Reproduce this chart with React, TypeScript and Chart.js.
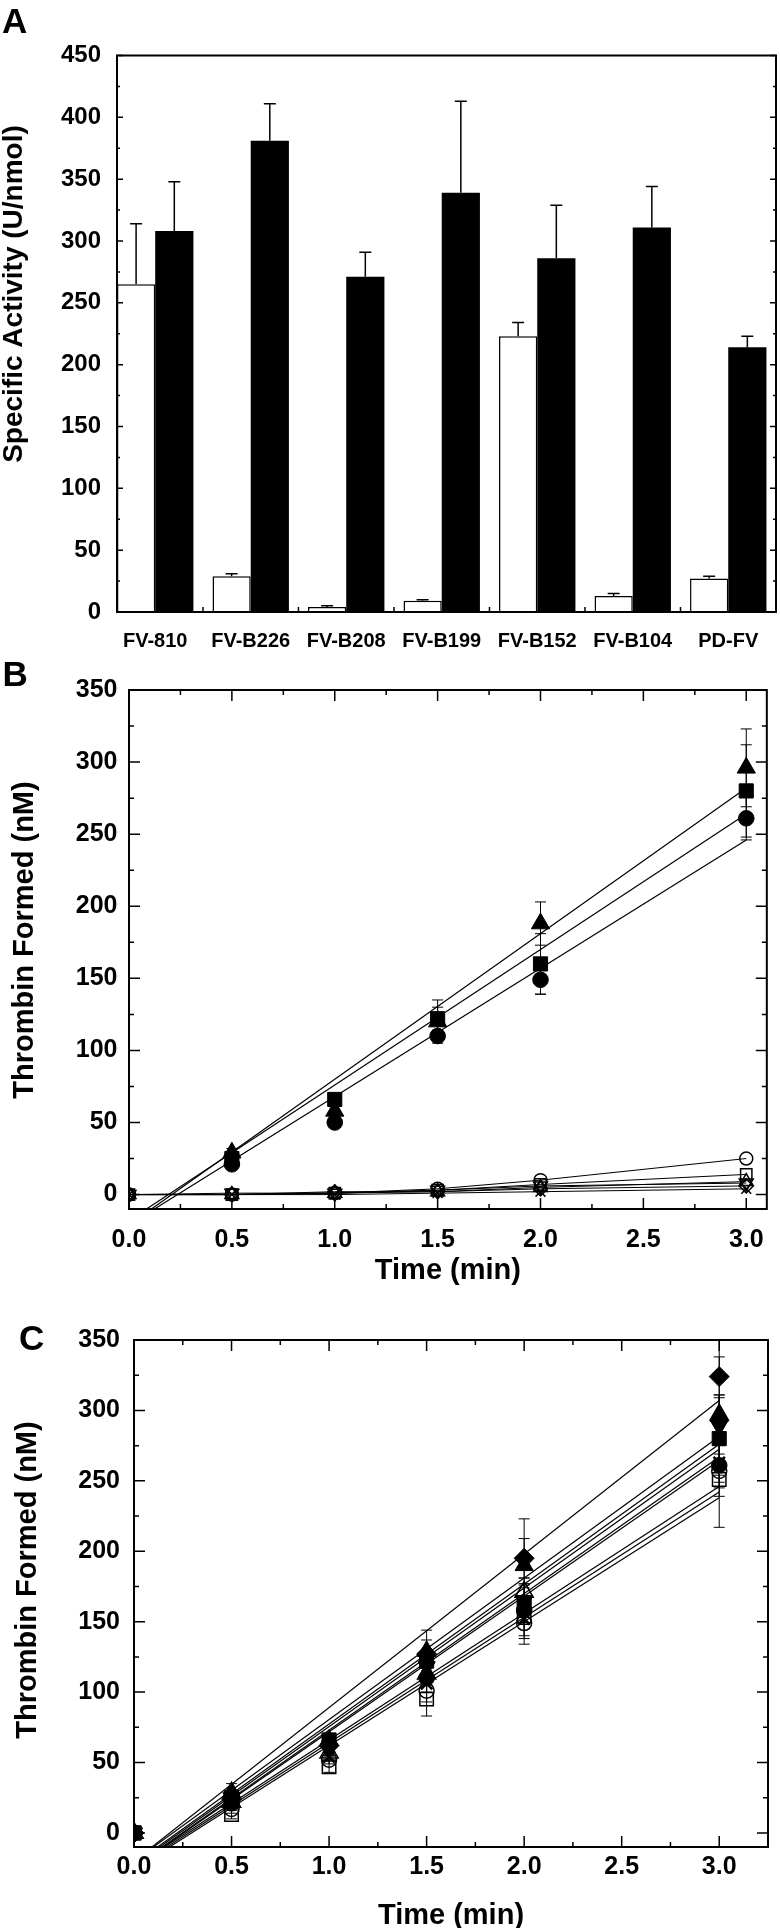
import React, { useEffect, useRef } from 'react';
import { Chart, registerables } from 'chart.js';

Chart.register(...registerables);

const FONT = "'Liberation Sans', Arial, Helvetica, sans-serif";
Chart.defaults.font.family = FONT;
Chart.defaults.color = '#000';

// ---------------- Panel A data ----------------
const A_CATEGORIES = ['FV-810', 'FV-B226', 'FV-B208', 'FV-B199', 'FV-B152', 'FV-B104', 'PD-FV'];
const A_OPEN_VALUES = [265, 29, 4, 9, 223, 13, 27];
const A_OPEN_ERRORS = [49, 2, 1, 1, 11, 2, 2];
const A_FILLED_VALUES = [308, 381, 271, 339, 286, 311, 214];
const A_FILLED_ERRORS = [40, 30, 20, 74, 43, 33, 9];
const A_Y_TICKS = [0, 50, 100, 150, 200, 250, 300, 350, 400, 450];
const A_Y_MINOR = [25, 75, 125, 175, 225, 275, 325, 375, 425];
const A_X_BOUNDARIES = [1.5, 2.5, 3.5, 4.5, 5.5, 6.5];
const A_Y_TITLE = 'Specific Activity (U/nmol)';

// ---------------- Panel B data ----------------
const B_TIMES = [0.5, 1, 1.5, 2, 3];
const B_TIMES_ZERO = [0, 0.5, 1, 1.5, 2, 3];
const B_TRIANGLE = [29, 58, 120, 188, 296];
const B_TRIANGLE_ERR = [3, 3, 15, 15, 27];
const B_SQUARE = [25, 66, 122, 160, 280];
const B_SQUARE_ERR = [2, 3, 8, 21, 32];
const B_CIRCLE = [21, 50, 110, 149, 261];
const B_CIRCLE_ERR = [2, 2, 3, 10, 15];
const B_FIT_SLOPES = [101, 94, 89];
const B_FIT_INTERCEPTS = [-21, -18, -21];
const B_OPEN_CIRCLE = [0, 0, 1, 4, 10, 25];
const B_OPEN_SQUARE = [0, 0, 1, 3, 7, 14];
const B_OPEN_TRIANGLE = [0, 0, 1, 2, 5, 9];
const B_OPEN_INV_TRIANGLE = [0, 1, 1, 3, 6, 8];
const B_OPEN_DIAMOND = [0, 0, 2, 2, 4, 6];
const B_CROSS = [0, 0, 0, 1, 2, 4];
const B_X_TICKS = [0, 0.5, 1, 1.5, 2, 2.5, 3];
const B_X_MINOR = [0.25, 0.75, 1.25, 1.75, 2.25, 2.75];

// ---------------- Panel C data ----------------
const C_TIMES = [0, 0.5, 1, 1.5, 2, 3];
const C_DIAMOND = [0, 24, 62, 127, 195, 324];
const C_DIAMOND_ERR = [0, 3, 4, 10, 14, 26];
const C_TRIANGLE = [0, 29, 66, 129, 190, 296];
const C_TRIANGLE_ERR = [0, 6, 4, 15, 33, 42];
const C_OPEN_TRIANGLE = [0, 22, 57, 113, 171, 297];
const C_OPEN_TRIANGLE_ERR = [0, 3, 3, 6, 10, 14];
const C_INV_TRIANGLE = [0, 25, 60, 118, 165, 289];
const C_INV_TRIANGLE_ERR = [0, 3, 3, 8, 12, 20];
const C_SQUARE = [0, 25, 66, 122, 162, 280];
const C_SQUARE_ERR = [0, 2, 3, 8, 14, 31];
const C_CIRCLE = [0, 21, 63, 110, 158, 261];
const C_CIRCLE_ERR = [0, 2, 3, 5, 10, 15];
const C_CROSS = [0, 24, 54, 106, 152, 263];
const C_CROSS_ERR = [0, 2, 3, 6, 12, 18];
const C_OPEN_SQUARE = [0, 13, 47, 95, 154, 251];
const C_OPEN_SQUARE_ERR = [0, 3, 4, 12, 20, 34];
const C_OPEN_CIRCLE = [0, 17, 52, 101, 149, 257];
const C_OPEN_CIRCLE_ERR = [0, 3, 3, 8, 11, 18];
const C_FIT_SLOPES = [109, 100.5, 99.3, 98.5, 97, 96.3, 90, 88, 89];
const C_FIT_INTERCEPTS = [-20, -20, -22, -23, -24, -24.5, -24, -26, -25];
const C_X_TICKS = [0, 0.5, 1, 1.5, 2, 2.5, 3];
const C_X_MINOR = [0.25, 0.75, 1.25, 1.75, 2.25, 2.75];

const THROMBIN_Y_TICKS = [0, 50, 100, 150, 200, 250, 300, 350];
const THROMBIN_Y_MINOR = [25, 75, 125, 175, 225, 275, 325];
const THROMBIN_Y_TITLE = 'Thrombin Formed (nM)';
const TIME_X_TITLE = 'Time (min)';

// ---------------- helpers ----------------
const pts = (xs: number[], ys: number[]) => ys.map((y, i) => ({ x: xs[i], y }));
const fitLine = (m: number, b: number, x0: number, x1: number) => [
  { x: x0, y: m * x0 + b },
  { x: x1, y: m * x1 + b },
];

type MarkStyle = { shape: string; r: number; filled: boolean; rot?: number };

function markerSet(data: any[], st: MarkStyle, errs?: number[], line = false) {
  return {
    data,
    errorBars: errs,
    showLine: line,
    order: 1,
    tension: 0,
    pointStyle: st.shape,
    pointRadius: st.r,
    pointRotation: st.rot || 0,
    pointBackgroundColor: st.filled ? '#000' : 'rgba(0,0,0,0)',
    pointBorderColor: '#000',
    pointBorderWidth: st.filled ? 1 : 1.5,
    borderColor: '#000',
    backgroundColor: '#000',
    borderWidth: 1,
  };
}

function fitSet(m: number, b: number) {
  return {
    data: fitLine(m, b, 0, 3),
    showLine: true,
    pointRadius: 0,
    borderColor: '#000',
    borderWidth: 1.2,
    order: 2,
    tension: 0,
    fill: false,
  };
}

const errorBarPlugin = (cap: number, width: number, upOnly: boolean) => ({
  id: 'errorBars',
  beforeDatasetsDraw(chart: any) {
    const { ctx, chartArea } = chart;
    const ys = chart.scales.y;
    ctx.save();
    ctx.beginPath();
    ctx.rect(chartArea.left, chartArea.top - 1, chartArea.right - chartArea.left, chartArea.bottom - chartArea.top + 1);
    ctx.clip();
    ctx.strokeStyle = '#000';
    ctx.lineWidth = width;
    chart.data.datasets.forEach((ds: any, i: number) => {
      const errs = ds.errorBars;
      if (!errs) return;
      const meta = chart.getDatasetMeta(i);
      meta.data.forEach((el: any, j: number) => {
        const e = errs[j];
        if (!e) return;
        const v = ds.data[j].y;
        const x = el.x;
        const yTop = ys.getPixelForValue(v + e);
        const yBot = ys.getPixelForValue(upOnly ? v : v - e);
        ctx.beginPath();
        ctx.moveTo(x, yBot);
        ctx.lineTo(x, yTop);
        ctx.moveTo(x - cap, yTop);
        ctx.lineTo(x + cap, yTop);
        if (!upOnly) {
          ctx.moveTo(x - cap, yBot);
          ctx.lineTo(x + cap, yBot);
        }
        ctx.stroke();
      });
    });
    ctx.restore();
  },
});

type Marks = { values: number[]; len: number; a: boolean; b: boolean };

const frameTicksPlugin = (xMarks: Marks[], yMarks: Marks[], frameWidth: number, tickWidth: number) => ({
  id: 'frameTicks',
  afterDatasetsDraw(chart: any) {
    const { ctx } = chart;
    const { left, right, top, bottom } = chart.chartArea;
    const xs = chart.scales.x;
    const ys = chart.scales.y;
    ctx.save();
    ctx.strokeStyle = '#000';
    ctx.lineWidth = tickWidth;
    ctx.beginPath();
    xMarks.forEach((m) => {
      m.values.forEach((v) => {
        const px = xs.getPixelForValue(v);
        if (m.a) {
          ctx.moveTo(px, bottom);
          ctx.lineTo(px, bottom - m.len);
        }
        if (m.b) {
          ctx.moveTo(px, top);
          ctx.lineTo(px, top + m.len);
        }
      });
    });
    yMarks.forEach((m) => {
      m.values.forEach((v) => {
        const py = ys.getPixelForValue(v);
        if (m.a) {
          ctx.moveTo(left, py);
          ctx.lineTo(left + m.len, py);
        }
        if (m.b) {
          ctx.moveTo(right, py);
          ctx.lineTo(right - m.len, py);
        }
      });
    });
    ctx.stroke();
    ctx.lineWidth = frameWidth;
    ctx.strokeRect(left, top, right - left, bottom - top);
    ctx.restore();
  },
});

// axis titles drawn as canvas text at given positions (x === null -> centre of plot)
type TitleSpec = { text: string; x: number | null; y: number; rot: boolean; size: number };
const titlesPlugin = (specs: TitleSpec[]) => ({
  id: 'axisTitles',
  afterDraw(chart: any) {
    const { ctx, chartArea } = chart;
    ctx.save();
    ctx.fillStyle = '#000';
    ctx.textAlign = 'center';
    ctx.textBaseline = 'middle';
    specs.forEach((s) => {
      const x = s.x === null ? (chartArea.left + chartArea.right) / 2 : s.x;
      ctx.save();
      ctx.translate(x, s.y);
      if (s.rot) ctx.rotate(-Math.PI / 2);
      ctx.font = `bold ${s.size}px ${FONT}`;
      ctx.fillText(s.text, 0, 0);
      ctx.restore();
    });
    ctx.restore();
  },
});

// ---------------- configs ----------------
const A_H = 650;
const B_TOP = 650;
const B_H = 652;
const C_TOP = B_TOP + B_H;
const C_H = 1928 - C_TOP;

function configA(): any {
  const chartTop = 55.5;
  const chartBottom = 612;
  return {
    type: 'bar',
    data: {
      datasets: [
        {
          data: pts(A_CATEGORIES.map((_, i) => i + 1), A_OPEN_VALUES),
          errorBars: A_OPEN_ERRORS,
          backgroundColor: '#fff',
          borderColor: '#000',
          borderWidth: 1.5,
          categoryPercentage: 0.8,
          barPercentage: 1.0,
        },
        {
          data: pts(A_CATEGORIES.map((_, i) => i + 1), A_FILLED_VALUES),
          errorBars: A_FILLED_ERRORS,
          backgroundColor: '#000',
          borderColor: '#000',
          borderWidth: 0,
          categoryPercentage: 0.8,
          barPercentage: 1.0,
        },
      ],
    },
    options: {
      animation: false,
      responsive: false,
      events: [],
      layout: { padding: { left: 0, top: chartTop, right: 4, bottom: 0 } },
      plugins: { legend: { display: false }, tooltip: { enabled: false } },
      scales: {
        x: {
          type: 'linear',
          offset: false,
          min: 0.6,
          max: 7.5,
          afterBuildTicks: (s: any) => {
            s.ticks = A_CATEGORIES.map((_, i) => ({ value: i + 1 }));
          },
          afterFit: (s: any) => {
            s.height = A_H - chartBottom;
          },
          ticks: {
            autoSkip: false,
            maxRotation: 0,
            padding: 17,
            color: '#000',
            font: { family: FONT, size: 20, weight: 'bold' },
            callback: (v: any) => A_CATEGORIES[Math.round(Number(v)) - 1] ?? '',
          },
          grid: { display: false, drawTicks: false },
          border: { display: false },
        },
        y: {
          min: 0,
          max: 450,
          afterBuildTicks: (s: any) => {
            s.ticks = A_Y_TICKS.map((v) => ({ value: v }));
          },
          afterFit: (s: any) => {
            s.width = 117;
          },
          ticks: {
            padding: 16,
            color: '#000',
            font: { family: FONT, size: 24, weight: 'bold' },
          },
          grid: { display: false, drawTicks: false },
          border: { display: false },
        },
      },
    },
    plugins: [
      errorBarPlugin(6, 1.5, true),
      frameTicksPlugin(
        [{ values: A_X_BOUNDARIES, len: 5, a: true, b: false }],
        [
          { values: A_Y_TICKS, len: 6, a: true, b: true },
          { values: A_Y_MINOR, len: 3, a: true, b: true },
        ],
        2,
        1.5
      ),
      titlesPlugin([{ text: A_Y_TITLE, x: 14.5, y: 294, rot: true, size: 28 }]),
    ],
  };
}

function thrombinConfig(datasets: any[], o: any): any {
  return {
    type: 'scatter',
    data: { datasets },
    options: {
      animation: false,
      responsive: false,
      events: [],
      layout: { padding: { left: 0, top: o.padTop, right: o.padRight, bottom: 0 } },
      plugins: { legend: { display: false }, tooltip: { enabled: false } },
      scales: {
        x: {
          type: 'linear',
          min: 0,
          max: o.xMax,
          afterBuildTicks: (s: any) => {
            s.ticks = o.xTicks.map((v: number) => ({ value: v }));
          },
          afterFit: (s: any) => {
            s.height = o.xAxisHeight;
          },
          ticks: {
            autoSkip: false,
            maxRotation: 0,
            padding: o.xTickPad,
            color: '#000',
            font: { family: FONT, size: 25, weight: 'bold' },
            callback: (v: any) => Number(v).toFixed(1),
          },
          grid: { display: false, drawTicks: false },
          border: { display: false },
        },
        y: {
          type: 'linear',
          min: -10,
          max: 350,
          afterBuildTicks: (s: any) => {
            s.ticks = THROMBIN_Y_TICKS.map((v) => ({ value: v }));
          },
          afterFit: (s: any) => {
            s.width = o.yAxisWidth;
          },
          ticks: {
            padding: o.yTickPad,
            color: '#000',
            font: { family: FONT, size: 25, weight: 'bold' },
          },
          grid: { display: false, drawTicks: false },
          border: { display: false },
        },
      },
    },
    plugins: [
      errorBarPlugin(5.5, 1, false),
      frameTicksPlugin(
        [
          { values: o.xTicks, len: 11, a: true, b: true },
          { values: o.xMinor, len: 5, a: true, b: true },
        ],
        [
          { values: THROMBIN_Y_TICKS, len: 11, a: true, b: true },
          { values: THROMBIN_Y_MINOR, len: 5, a: true, b: true },
        ],
        2,
        1.5
      ),
      titlesPlugin([
        { text: THROMBIN_Y_TITLE, x: o.yTitleX, y: o.yTitleY, rot: true, size: 29 },
        { text: TIME_X_TITLE, x: null, y: o.xTitleY, rot: false, size: 29 },
      ]),
    ],
  };
}

const TRI: MarkStyle = { shape: 'triangle', r: 10.5, filled: true };
const SQ: MarkStyle = { shape: 'rect', r: 10, filled: true };
const CIR: MarkStyle = { shape: 'circle', r: 7.8, filled: true };
const DIA: MarkStyle = { shape: 'rectRot', r: 10, filled: true };
const INV: MarkStyle = { shape: 'triangle', r: 10, filled: true, rot: 180 };
const XMARK: MarkStyle = { shape: 'crossRot', r: 8, filled: false };
const O_TRI: MarkStyle = { shape: 'triangle', r: 10.5, filled: false };
const O_SQ: MarkStyle = { shape: 'rect', r: 9.5, filled: false };
const O_CIR: MarkStyle = { shape: 'circle', r: 7.5, filled: false };
const SO_CIR: MarkStyle = { shape: 'circle', r: 6.5, filled: false };
const SO_SQ: MarkStyle = { shape: 'rect', r: 8, filled: false };
const SO_TRI: MarkStyle = { shape: 'triangle', r: 8, filled: false };
const SO_INV: MarkStyle = { shape: 'triangle', r: 8, filled: false, rot: 180 };
const SO_DIA: MarkStyle = { shape: 'rectRot', r: 7, filled: false };
const SO_X: MarkStyle = { shape: 'crossRot', r: 7, filled: false };

function configB(): any {
  const datasets = [
    markerSet(pts(B_TIMES, B_TRIANGLE), TRI, B_TRIANGLE_ERR),
    markerSet(pts(B_TIMES, B_SQUARE), SQ, B_SQUARE_ERR),
    markerSet(pts(B_TIMES, B_CIRCLE), CIR, B_CIRCLE_ERR),
    markerSet(pts(B_TIMES_ZERO, B_OPEN_CIRCLE), SO_CIR, undefined, true),
    markerSet(pts(B_TIMES_ZERO, B_OPEN_SQUARE), SO_SQ, undefined, true),
    markerSet(pts(B_TIMES_ZERO, B_OPEN_TRIANGLE), SO_TRI, undefined, true),
    markerSet(pts(B_TIMES_ZERO, B_OPEN_INV_TRIANGLE), SO_INV, undefined, true),
    markerSet(pts(B_TIMES_ZERO, B_OPEN_DIAMOND), SO_DIA, undefined, true),
    markerSet(pts(B_TIMES_ZERO, B_CROSS), SO_X, undefined, true),
    ...B_FIT_SLOPES.map((m, i) => fitSet(m, B_FIT_INTERCEPTS[i])),
  ];
  const chartTop = 690 - B_TOP;
  const chartBottom = 1209 - B_TOP;
  return thrombinConfig(datasets, {
    padTop: chartTop,
    padRight: 5,
    xMax: 3.1,
    xTicks: B_X_TICKS,
    xMinor: B_X_MINOR,
    xAxisHeight: B_H - chartBottom,
    xTickPad: 16,
    yAxisWidth: 129,
    yTickPad: 11.5,
    yTitleX: 24.5,
    yTitleY: 940 - B_TOP,
    xTitleY: 1271 - B_TOP,
  });
}

function configC(): any {
  const series: [number[], MarkStyle, number[]][] = [
    [C_DIAMOND, DIA, C_DIAMOND_ERR],
    [C_TRIANGLE, TRI, C_TRIANGLE_ERR],
    [C_OPEN_TRIANGLE, O_TRI, C_OPEN_TRIANGLE_ERR],
    [C_INV_TRIANGLE, INV, C_INV_TRIANGLE_ERR],
    [C_SQUARE, SQ, C_SQUARE_ERR],
    [C_CIRCLE, CIR, C_CIRCLE_ERR],
    [C_CROSS, XMARK, C_CROSS_ERR],
    [C_OPEN_SQUARE, O_SQ, C_OPEN_SQUARE_ERR],
    [C_OPEN_CIRCLE, O_CIR, C_OPEN_CIRCLE_ERR],
  ];
  const datasets = [
    ...series.map(([ys, st, errs]) => {
      const d: any = markerSet(pts(C_TIMES, ys), st, errs);
      if (st.shape === 'crossRot') d.pointBorderWidth = 2.5;
      return d;
    }),
    ...C_FIT_SLOPES.map((m, i) => fitSet(m, C_FIT_INTERCEPTS[i])),
  ];
  const chartTop = 1340 - C_TOP;
  const chartBottom = 1847 - C_TOP;
  return thrombinConfig(datasets, {
    padTop: chartTop,
    padRight: 1.5,
    xMax: 3.25,
    xTicks: C_X_TICKS,
    xMinor: C_X_MINOR,
    xAxisHeight: C_H - chartBottom,
    xTickPad: 5,
    yAxisWidth: 134,
    yTickPad: 14,
    yTitleX: 27.5,
    yTitleY: 1580 - C_TOP,
    xTitleY: 1916 - C_TOP,
  });
}

const letterStyle = (left: number, top: number): React.CSSProperties => ({
  position: 'absolute',
  left,
  top,
  margin: 0,
  fontFamily: FONT,
  fontWeight: 'bold',
  fontSize: 35,
  lineHeight: '35px',
  color: '#000',
});

export default function App() {
  const refA = useRef<HTMLCanvasElement>(null);
  const refB = useRef<HTMLCanvasElement>(null);
  const refC = useRef<HTMLCanvasElement>(null);

  useEffect(() => {
    const charts: Chart[] = [];
    if (refA.current) charts.push(new Chart(refA.current, configA()));
    if (refB.current) charts.push(new Chart(refB.current, configB()));
    if (refC.current) charts.push(new Chart(refC.current, configC()));
    return () => charts.forEach((c) => c.destroy());
  }, []);

  const canvasStyle = (top: number, h: number): React.CSSProperties => ({
    position: 'absolute',
    left: 0,
    top,
    width: 780,
    height: h,
  });

  return (
    <div style={{ position: 'absolute', left: 0, top: 0, width: 780, height: 1928, background: '#fff', overflow: 'hidden' }}>
      <canvas ref={refA} width={780} height={A_H} style={canvasStyle(0, A_H)} />
      <canvas ref={refB} width={780} height={B_H} style={canvasStyle(B_TOP, B_H)} />
      <canvas ref={refC} width={780} height={C_H} style={canvasStyle(C_TOP, C_H)} />
      <div style={letterStyle(2, 2.5)}>A</div>
      <div style={letterStyle(2.5, 655.5)}>B</div>
      <div style={letterStyle(19, 1320)}>C</div>
    </div>
  );
}
